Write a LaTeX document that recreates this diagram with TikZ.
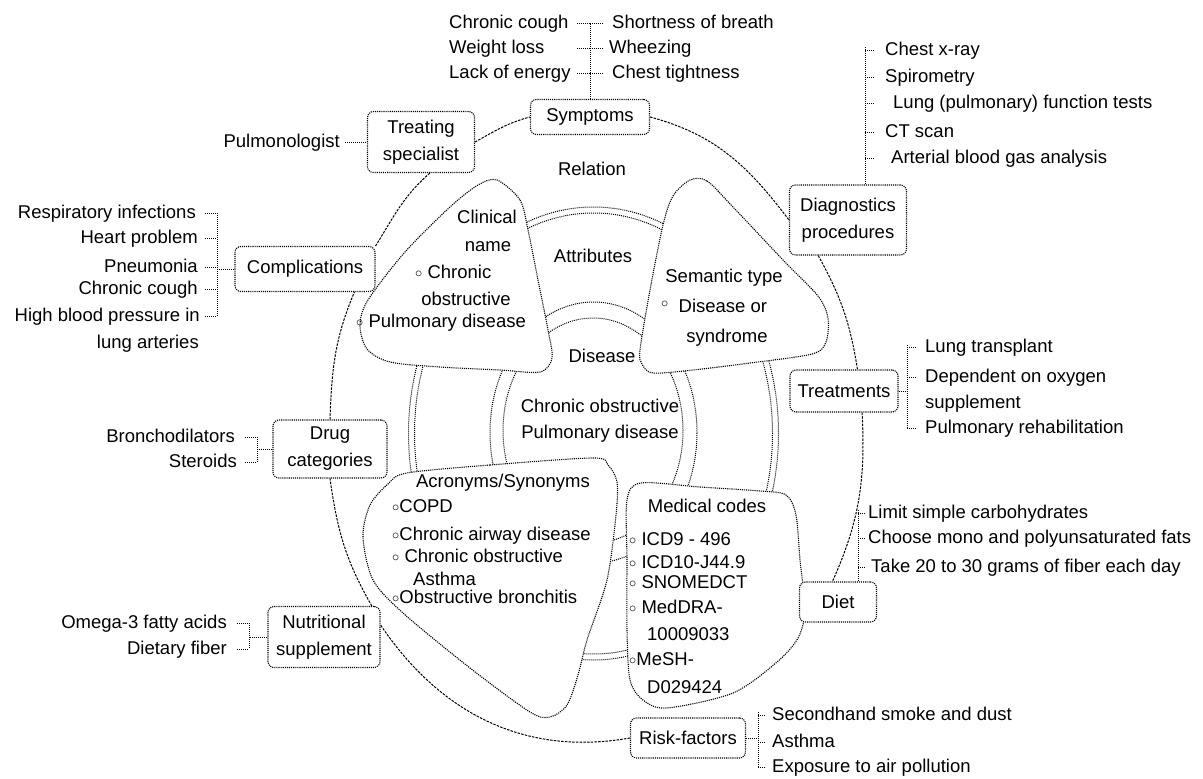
\documentclass[tikz,border=0pt]{standalone}
\usepackage{fontspec}
\setmainfont{Liberation Sans}
\usetikzlibrary{calc}
\newcommand{\blt}{\raisebox{0.5pt}{\fontsize{15}{15}\selectfont$\circ$}}
\tikzset{
	every node/.style={font=\fontsize{18.5}{27}\selectfont, inner sep=0pt},
	relbox/.style={draw, densely dotted, line width=1.1pt, rounded corners=6pt, fill=white, align=center},
	item/.style={text height=12pt, text depth=2pt},
	link/.style={densely dotted, line width=1pt},
	ring/.style={dash pattern=on 2.5pt off 1.2pt, line width=1pt},
	blob/.style={densely dotted, line width=1.1pt, fill=white},
}
\begin{document}
\begin{tikzpicture}[x=1pt, y=-1pt]
	\useasboundingbox (0,0) rectangle (1203,779);
	% inner double rings
	\draw [link] (593.5,433.5) ellipse [x radius=185pt, y radius=226.5pt];
	\draw [link] (593.5,433.5) ellipse [x radius=179pt, y radius=220.5pt];
	\draw [link] (593.5,432.5) ellipse [x radius=103.5pt, y radius=130.5pt];
	\draw [link] (593,430.5) ellipse [x radius=90pt, y radius=112.5pt];
	% attribute shapes
	\draw [blob] plot [smooth cycle, tension=0.5] coordinates {(497,180)(520,200)(528,230)(538,280)(548,330)(552,358)(540,372)(500,370)(440,367)(390,362)(367,349)(360,325)(368,300)(405,252)(450,207)(478,185)};
	\draw [blob] plot [smooth cycle, tension=0.5] coordinates {(690,180)(707,181)(733,207)(783,260)(818,296)(828,318)(826,342)(812,354)(750,363)(693,370)(653,373)(642,364)(640,350)(650,290)(663,225)(673,196)};
	\draw [blob] plot [smooth cycle, tension=0.5] coordinates {(407,473)(490,465)(593,458)(608,465)(617,482)(616,515)(607,580)(587,640)(578,675)(567,705)(550,717)(530,712)(470,668)(403,613)(373,580)(363,537)(370,505)(388,484)};
	\draw [blob] plot [smooth cycle, tension=0.5] coordinates {(641,483)(700,487)(760,491)(786,495)(796,515)(800,560)(805,610)(798,638)(777,662)(733,693)(667,708)(643,700)(630,680)(627,630)(627,560)(627,500)};
	% texts in the shapes
	\node [item] (clin) at (487,218) {Clinical};
	\node [item] (clname) at (488,246) {name};
	\node [item, anchor=west] (clcopd) at (415,273) {\blt\ Chronic};
	\node [item] (clobs) at (466,300) {obstructive};
	\node [item, anchor=west] (clpul) at (356,322) {\blt\ Pulmonary disease};
	\node [item] (sem) at (724,277) {Semantic type};
	\node [item, anchor=west] (semdis) at (661,307) {\raisebox{4pt}{\blt}\ \ Disease or};
	\node [item] (semsyn) at (727,337) {syndrome};
	\node [item] (acr) at (503,482) {Acronyms/Synonyms};
	\node [item, anchor=west] (acr1) at (392,507) {\blt COPD};
	\node [item, anchor=west] (acr2) at (392,535) {\blt Chronic airway disease};
	\node [item, anchor=west] (acr3) at (392,557) {\blt\ Chronic obstructive};
	\node [item, anchor=west] (acr3b) at (413,580) {Asthma};
	\node [item, anchor=west] (acr4) at (392,598) {\blt Obstructive bronchitis};
	\node [item] (med) at (707,507) {Medical codes};
	\node [item, anchor=west] (med1) at (629,540) {\blt\ ICD9 - 496};
	\node [item, anchor=west] (med2) at (629,563) {\blt\ ICD10-J44.9};
	\node [item, anchor=west] (med3) at (629,583) {\blt\ SNOMEDCT};
	\node [item, anchor=west] (med4) at (629,608) {\blt\ MedDRA-};
	\node [item, anchor=west] (med4b) at (647,635) {10009033};
	\node [item, anchor=west] (med5) at (629,660) {\blt MeSH-};
	\node [item, anchor=west] (med5b) at (647,688) {D029424};
	\node [item] (rel) at (592,170) {Relation};
	\node [item] (attr) at (593,257) {Attributes};
	\node [item] (dis) at (602,357) {Disease};
	\node [item] (copd1) at (600,407) {Chronic obstructive};
	\node [item] (copd2) at (600,433) {Pulmonary disease};
	% relation boxes
	\node [relbox, minimum width=119pt, minimum height=35pt] (symp) at (590,117) {Symptoms};
	\node [relbox, minimum width=107pt, minimum height=61pt] (spec) at (421,142) {Treating\\specialist};
	\node [relbox, minimum width=140pt, minimum height=45pt] (comp) at (305,269) {Complications};
	\node [relbox, minimum width=114pt, minimum height=58pt] (drug) at (330,449) {Drug\\categories};
	\node [relbox, minimum width=112pt, minimum height=61pt] (nutr) at (324,637) {Nutritional\\supplement};
	\node [relbox, minimum width=115pt, minimum height=40pt] (risk) at (688,738) {Risk-factors};
	\node [relbox, minimum width=77pt, minimum height=40pt] (diet) at (838,602) {Diet};
	\node [relbox, minimum width=108pt, minimum height=42pt] (treat) at (844,391) {Treatments};
	\node [relbox, minimum width=117pt, minimum height=70pt] (diag) at (848,220) {Diagnostics\\procedures};
	% outer relation ring
	\draw [ring] (symp.east) to [out=-15, in=127] (diag.west);
	\draw [ring] (diag.-130) to [out=-61, in=99] (treat.58);
	\draw [ring] (treat.-50) to [out=-87, in=66] (diet.105);
	\draw [ring] (risk.west) to [out=-170, in=-56] (nutr.12);
	\draw [ring] (nutr.33) to [out=120, in=-82] (drug.south);
	\draw [ring] (drug.north) to [out=88, in=247] (comp.-25);
	\draw [ring] (comp.north east) to [out=58, in=221] (spec.-74);
	\draw [ring] (spec.east) to [out=29, in=195] (symp.west);
	% symptoms
	\node [item, anchor=west] (cc1) at (449,23) {Chronic cough};
	\node [item, anchor=west] (wl) at (449,48) {Weight loss};
	\node [item, anchor=west] (le) at (449,73) {Lack of energy};
	\node [item, anchor=west] (sob) at (612,23) {Shortness of breath};
	\node [item, anchor=west] (wz) at (609,48) {Wheezing};
	\node [item, anchor=west] (ct) at (612,73) {Chest tightness};
	\draw [link] (symp.north) -- (symp.north |- cc1);
	\foreach \n in {cc1,wl,le} \draw [link] ([xshift=-13pt]symp.north |- \n) -- (symp.north |- \n);
	\foreach \n in {sob,wz,ct} \draw [link] (symp.north |- \n) -- ([xshift=13pt]symp.north |- \n);
	% diagnostics
	\node [item, anchor=west] (cxr) at (885,50) {Chest x-ray};
	\node [item, anchor=west] (spir) at (885,77) {Spirometry};
	\node [item, anchor=west] (lung) at (893,103) {Lung (pulmonary) function tests};
	\node [item, anchor=west] (cts) at (885,132) {CT scan};
	\node [item, anchor=west] (abg) at (891,158) {Arterial blood gas analysis};
	\coordinate (dsp) at (865,47);
	\draw [link] (dsp) -- (dsp |- diag.north);
	\foreach \n in {cxr,spir,lung,cts,abg} \draw [link] (dsp |- \n) -- ([xshift=9pt]dsp |- \n);
	% treatments
	\node [item, anchor=west] (lt) at (925,347) {Lung transplant};
	\node [item, anchor=west] (dep) at (925,377) {Dependent on oxygen};
	\node [item, anchor=west] (dep2) at (925,403) {supplement};
	\node [item, anchor=west] (pr) at (925,428) {Pulmonary rehabilitation};
	\coordinate (tsp) at (907,345);
	\draw [link] (tsp) -- (tsp |- pr);
	\draw [link] (treat.east) -- (treat.east -| tsp);
	\foreach \n in {lt,dep,pr} \draw [link] (tsp |- \n) -- ([xshift=9pt]tsp |- \n);
	% diet
	\node [item, anchor=west] (lsc) at (868,513) {Limit simple carbohydrates};
	\node [item, anchor=west] (cmp) at (868,538) {Choose mono and polyunsaturated fats};
	\node [item, anchor=west] (fib) at (871,567) {Take 20 to 30 grams of fiber each day};
	\coordinate (dtsp) at (858,510);
	\draw [link] (dtsp) -- (dtsp |- diet.north);
	\foreach \n in {lsc,cmp,fib} \draw [link] (dtsp |- \n) -- ([xshift=7pt]dtsp |- \n);
	% risk factors
	\node [item, anchor=west] (smk) at (772,715) {Secondhand smoke and dust};
	\node [item, anchor=west] (ast) at (772,742) {Asthma};
	\node [item, anchor=west] (exp) at (772,767) {Exposure to air pollution};
	\coordinate (rsp) at (758,712);
	\draw [link] (rsp) -- (rsp |- exp);
	\draw [link] (risk.east) -- (risk.east -| rsp);
	\foreach \n in {smk,ast,exp} \draw [link] (rsp |- \n) -- ([xshift=8pt]rsp |- \n);
	% treating specialist
	\node [item, anchor=east] (pulm) at (340,142) {Pulmonologist};
	\draw [link] ([xshift=5pt]pulm.east) -- (spec.west);
	% complications
	\node [item, anchor=east] (resp) at (196,213) {Respiratory infections};
	\node [item, anchor=east] (heart) at (198,238) {Heart problem};
	\node [item, anchor=east] (pneu) at (198,267) {Pneumonia};
	\node [item, anchor=east] (cc2) at (198,289) {Chronic cough};
	\node [item, anchor=east] (hbp) at (200,316) {High blood pressure in};
	\node [item, anchor=east] (hbp2) at (199,343) {lung arteries};
	\coordinate (csp) at (217,213);
	\draw [link] (csp) -- (csp |- hbp);
	\draw [link] (comp.west) -- (comp.west -| csp);
	\foreach \n in {resp,heart,pneu,cc2,hbp} \draw [link] ([xshift=-12pt]csp |- \n) -- (csp |- \n);
	% drug categories
	\node [item, anchor=east] (bron) at (235,437) {Bronchodilators};
	\node [item, anchor=east] (ster) at (237,462) {Steroids};
	\coordinate (dgsp) at (257,437);
	\draw [link] (dgsp) -- (dgsp |- ster);
	\draw [link] (drug.west) -- (drug.west -| dgsp);
	\foreach \n in {bron,ster} \draw [link] ([xshift=-12pt]dgsp |- \n) -- (dgsp |- \n);
	% nutritional supplement
	\node [item, anchor=east] (omg) at (227,623) {Omega-3 fatty acids};
	\node [item, anchor=east] (dfib) at (227,649) {Dietary fiber};
	\coordinate (nsp) at (249,623);
	\draw [link] (nsp) -- (nsp |- dfib);
	\draw [link] (nutr.west) -- (nutr.west -| nsp);
	\foreach \n in {omg,dfib} \draw [link] ([xshift=-12pt]nsp |- \n) -- (nsp |- \n);
\end{tikzpicture}
\end{document}
